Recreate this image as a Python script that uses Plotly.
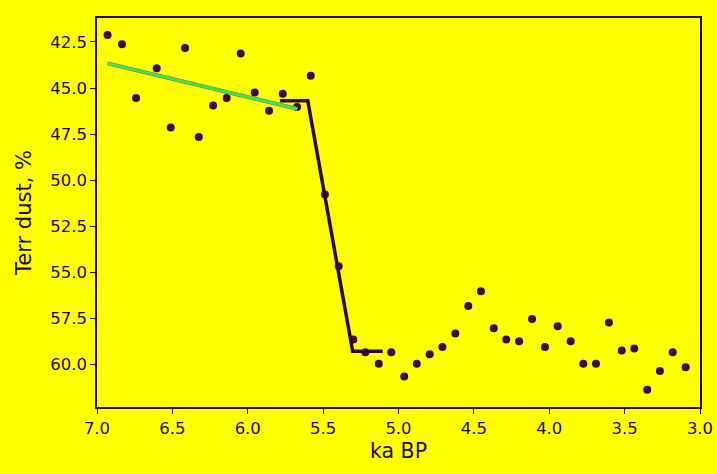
import plotly.graph_objects as go

# Scatter data (ka BP, Terr dust %)
age = [6.93, 6.834, 6.741, 6.604, 6.511, 6.416, 6.325, 6.23, 6.14, 6.047,
       5.954, 5.859, 5.768, 5.673, 5.582, 5.488, 5.397, 5.30, 5.22, 5.131,
       5.048, 4.962, 4.879, 4.793, 4.709, 4.623, 4.537, 4.453, 4.368, 4.285,
       4.2, 4.114, 4.028, 3.944, 3.858, 3.774, 3.69, 3.604, 3.519, 3.436,
       3.35, 3.266, 3.181, 3.095]
dust = [42.12, 42.63, 45.54, 43.93, 47.14, 42.83, 47.65, 45.95, 45.54, 43.12,
        45.24, 46.23, 45.31, 46.03, 44.33, 50.78, 54.66, 58.64, 59.33, 59.95,
        59.33, 60.65, 59.95, 59.44, 59.04, 58.32, 56.82, 56.02, 58.03, 58.64,
        58.73, 57.52, 59.04, 57.92, 58.73, 59.95, 59.95, 57.72, 59.24, 59.13,
        61.36, 60.35, 59.33, 60.15]

# Linear trend (early part)
trend_x = [6.93, 5.671]
trend_y = [43.66, 46.13]

# Ramp fit
ramp_x = [5.787, 5.602, 5.304, 5.105]
ramp_y = [45.69, 45.69, 59.28, 59.28]

x_ticks = [7.0, 6.5, 6.0, 5.5, 5.0, 4.5, 4.0, 3.5, 3.0]
y_ticks = [42.5, 45.0, 47.5, 50.0, 52.5, 55.0, 57.5, 60.0]

ink = "#220a22"

fig = go.Figure()
fig.add_trace(go.Scatter(x=age, y=dust, mode="markers",
                         marker=dict(size=8, color="#3a0a44"), showlegend=False))
fig.add_trace(go.Scatter(x=trend_x, y=trend_y, mode="lines",
                         line=dict(color="#a050a0", width=3.8), showlegend=False))
fig.add_trace(go.Scatter(x=trend_x, y=trend_y, mode="lines",
                         line=dict(color="#33ee33", width=3), showlegend=False))
fig.add_trace(go.Scatter(x=ramp_x, y=ramp_y, mode="lines",
                         line=dict(color="#2a0a2a", width=3.5), showlegend=False))

axis_common = dict(showgrid=False, zeroline=False, showline=True, mirror=True,
                   linecolor=ink, linewidth=1.5, ticks="outside", ticklen=5,
                   tickcolor=ink, tickwidth=1.2, automargin=False,
                   tickfont=dict(family="DejaVu Sans", size=16.5, color=ink))

fig.update_xaxes(range=[7.0, 3.0], tickvals=x_ticks,
                 ticktext=[f"{v:.1f}" for v in x_ticks],
                 title=dict(text="ka BP", font=dict(family="DejaVu Sans", size=20.5, color=ink),
                            standoff=7),
                 **axis_common)
fig.update_yaxes(range=[62.3, 41.2], tickvals=y_ticks,
                 ticktext=[f"{v:.1f}" for v in y_ticks],
                 title=dict(text="Terr dust, %", font=dict(family="DejaVu Sans", size=21, color=ink),
                            standoff=13),
                 **axis_common)

fig.update_layout(width=717, height=474,
                  margin=dict(l=97, r=17, t=18, b=67),
                  paper_bgcolor="#ffff00", plot_bgcolor="#ffff00")

fig.write_html("out.html", config={"displayModeBar": False},
               post_script="document.body.style.margin='0';document.body.style.background='#ffff00';")
